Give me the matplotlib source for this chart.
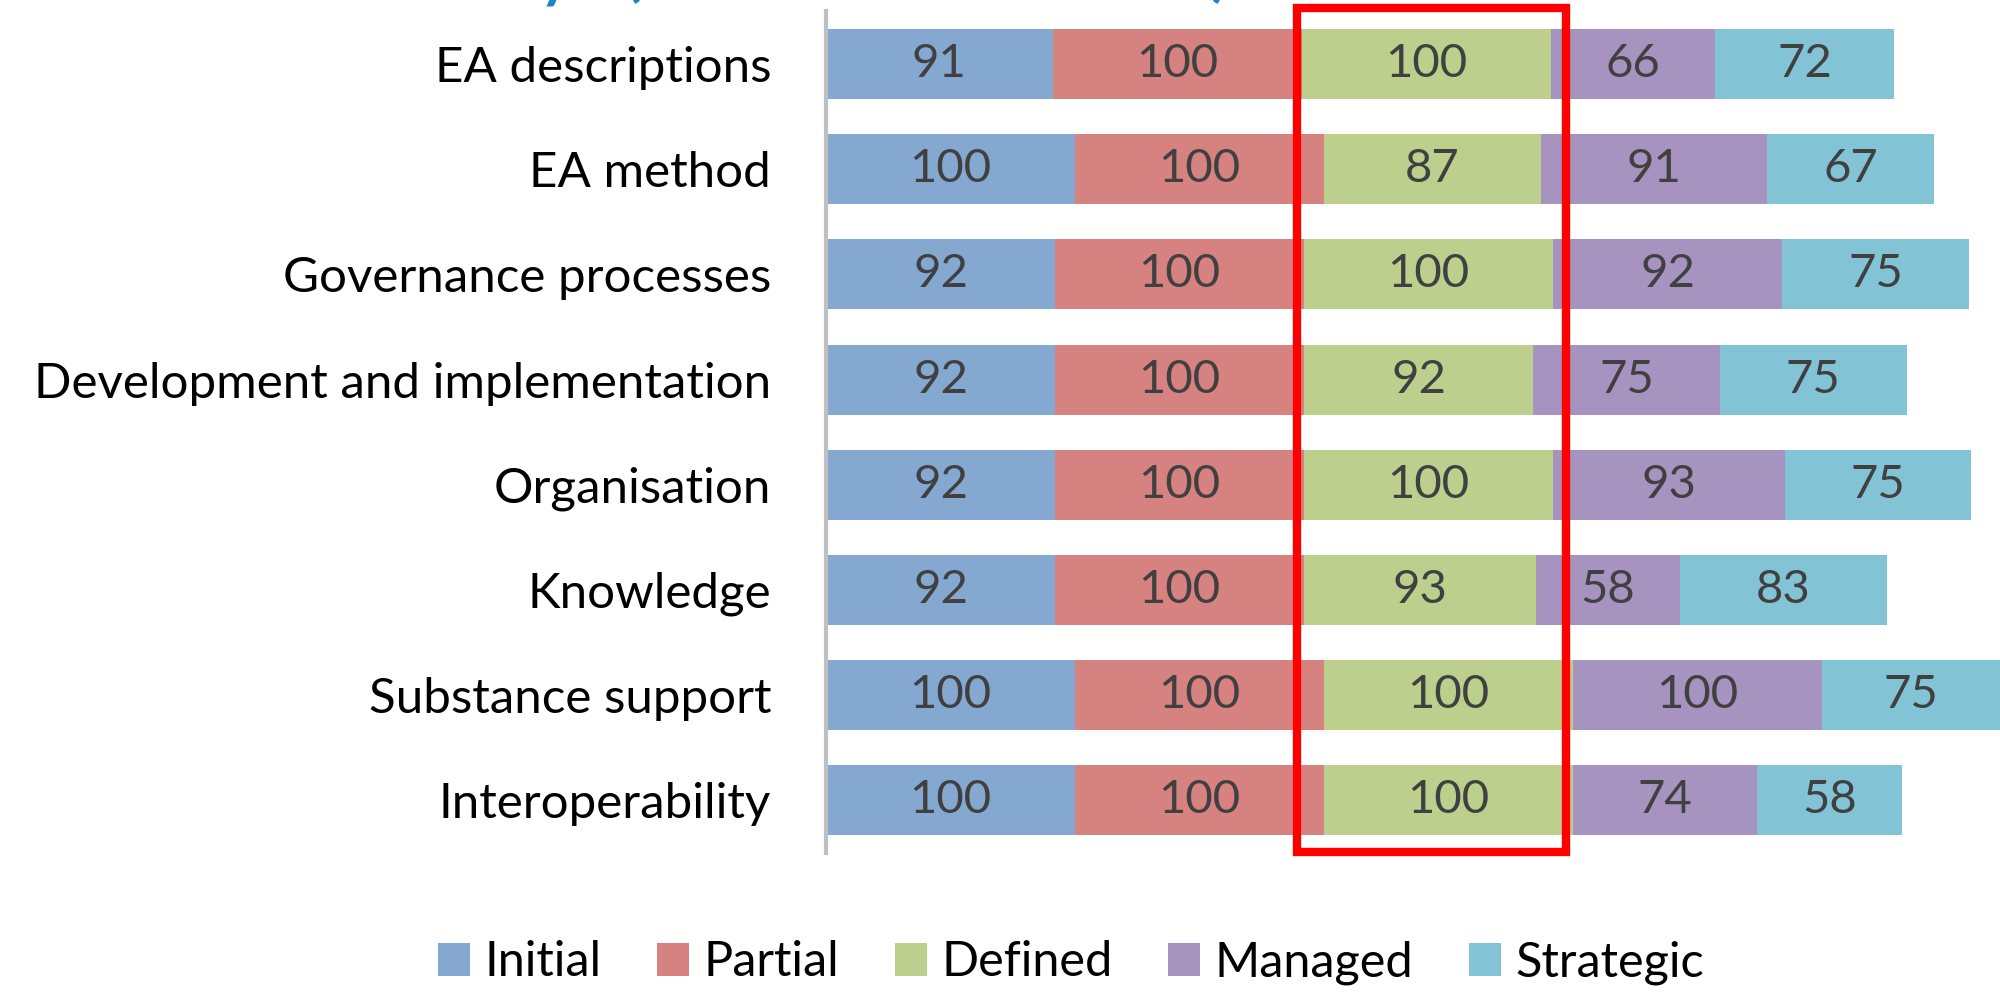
import matplotlib.pyplot as plt
from matplotlib.patches import Rectangle

# maturity scores per area and level
categories = ["EA descriptions", "EA method", "Governance processes",
              "Development and implementation", "Organisation", "Knowledge",
              "Substance support", "Interoperability"]
levels = ["Initial", "Partial", "Defined", "Managed", "Strategic"]
initial = [91, 100, 92, 92, 92, 92, 100, 100]
partial = [100, 100, 100, 100, 100, 100, 100, 100]
defined = [100, 87, 100, 92, 100, 93, 100, 100]
managed = [66, 91, 92, 75, 93, 58, 100, 74]
strategic = [72, 67, 75, 75, 75, 83, 75, 58]

colors = ["#84A8CF", "#D58280", "#BCCF8D", "#A693BF", "#82C4D6"]

plt.rcParams['font.family'] = ['Lato', 'DejaVu Sans']

fig = plt.figure(figsize=(20, 9.92), dpi=100)
ax = fig.add_axes([826 / 2000, 1 - 853 / 992, 1 - 826 / 2000, (853 - 11.4) / 992])

series = [initial, partial, defined, managed, strategic]
y = list(range(len(categories)))
left = [0] * len(categories)
for name, vals, c in zip(levels, series, colors):
    bars = ax.barh(y, vals, left=left, height=0.665, color=c, label=name)
    ax.bar_label(bars, labels=[str(v) for v in vals], label_type='center',
                 fontsize=34, color='#404040')
    left = [a + b for a, b in zip(left, vals)]

ax.set_xlim(0, (2000 - 826) / 2.49)
ax.set_ylim(len(categories) - 0.5, -0.5)
ax.set_yticks(y)
ax.set_yticklabels(categories, fontsize=35.5)
ax.tick_params(left=False, bottom=False, labelbottom=False, pad=36)
for s in ['top', 'right', 'bottom']:
    ax.spines[s].set_visible(False)
ax.spines['left'].set_color('#BFBFBF')
ax.spines['left'].set_linewidth(3)

# highlight box around the "Defined" column
fig.add_artist(Rectangle((1297 / 2000, 1 - 852 / 992), (1566 - 1297) / 2000,
                         (852 - 7.5) / 992, transform=fig.transFigure,
                         fill=False, edgecolor='red', linewidth=6))

# title, mostly cut off at the top of the picture
fig.text(150 / 2000, 1 + 9 / 992, "EA maturity  (individual levels)",
         color='#1F83C9', fontsize=59, va='baseline', ha='left')

fig.legend(loc='lower center', bbox_to_anchor=(0.5355, -0.037), ncol=5,
           frameon=False, fontsize=35, handlelength=0.65, handleheight=0.65,
           handletextpad=0.3, columnspacing=1.15)

fig.savefig("out.png", dpi=100)
